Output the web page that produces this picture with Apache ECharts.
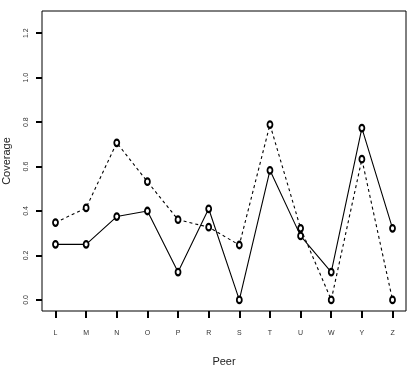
<!DOCTYPE html>
<html>
<head>
<meta charset="utf-8">
<script src="https://cdn.jsdelivr.net/npm/echarts@6/dist/echarts.min.js"></script>
<style>
  html, body { margin: 0; padding: 0; background: #fff; }
  #chart { width: 410px; height: 366px; }
</style>
</head>
<body>
<div id="chart"></div>
<script>
// peers on the x axis
var peers = ['L', 'M', 'N', 'O', 'P', 'R', 'S', 'T', 'U', 'W', 'Y', 'Z'];
// solid line
var solidValues = [0.25, 0.25, 0.375, 0.4, 0.125, 0.41, 0, 0.583, 0.288, 0.125, 0.773, 0.322];
// dashed line
var dashedValues = [0.348, 0.414, 0.707, 0.532, 0.361, 0.327, 0.247, 0.789, 0.322, 0, 0.633, 0];
var yTicks = [0, 0.2, 0.4, 0.6, 0.8, 1.0, 1.2];
var xTicks = [1, 2, 3, 4, 5, 6, 7, 8, 9, 10, 11, 12];

function toPairs(vals) {
    return vals.map(function (v, i) { return [xTicks[i], v]; });
}

var chart = echarts.init(document.getElementById('chart'));
var font = 'Liberation Sans, Arial, sans-serif';

chart.setOption({
    animation: false,
    grid: {
        left: 42, right: 4, top: 11, bottom: 55,
        outerBoundsMode: 'none',
        show: true, borderColor: '#000'
    },
    xAxis: {
        type: 'value',
        min: 0.56,
        max: 12.44,
        name: 'Peer',
        nameLocation: 'middle',
        nameGap: 45,
        nameTextStyle: { fontSize: 11, color: '#222', fontFamily: font },
        axisLine: { show: false, onZero: false },
        splitLine: { show: false },
        axisTick: { show: true, length: 7, customValues: xTicks, lineStyle: { color: '#000', width: 2 } },
        axisLabel: {
            customValues: xTicks,
            margin: 19,
            fontSize: 7,
            color: '#333',
            fontFamily: font,
            formatter: function (v) { return peers[Math.round(v) - 1]; }
        }
    },
    yAxis: {
        type: 'value',
        min: -0.05,
        max: 1.30,
        name: 'Coverage',
        nameLocation: 'middle',
        nameGap: 30,
        nameRotate: 90,
        nameTextStyle: { fontSize: 11, color: '#222', fontFamily: font },
        axisLine: { show: false, onZero: false },
        splitLine: { show: false },
        axisTick: { show: true, length: 6, customValues: yTicks, lineStyle: { color: '#000', width: 2 } },
        axisLabel: {
            customValues: yTicks,
            rotate: 90,
            margin: 12,
            fontSize: 7,
            color: '#333',
            fontFamily: font,
            formatter: function (v) { return v.toFixed(1); }
        }
    },
    series: [{
        name: 'solid',
        type: 'line',
        data: toPairs(solidValues),
        symbol: 'emptyCircle',
        symbolSize: [5, 6.5],
        lineStyle: { color: '#000', width: 1.1, type: 'solid' },
        itemStyle: { color: '#000', borderColor: '#000', borderWidth: 0.9 }
    }, {
        name: 'dashed',
        type: 'line',
        data: toPairs(dashedValues),
        symbol: 'emptyCircle',
        symbolSize: [5, 6.5],
        lineStyle: { color: '#000', width: 1.1, type: [3, 3] },
        itemStyle: { color: '#000', borderColor: '#000', borderWidth: 0.9 }
    }]
});
</script>
</body>
</html>
